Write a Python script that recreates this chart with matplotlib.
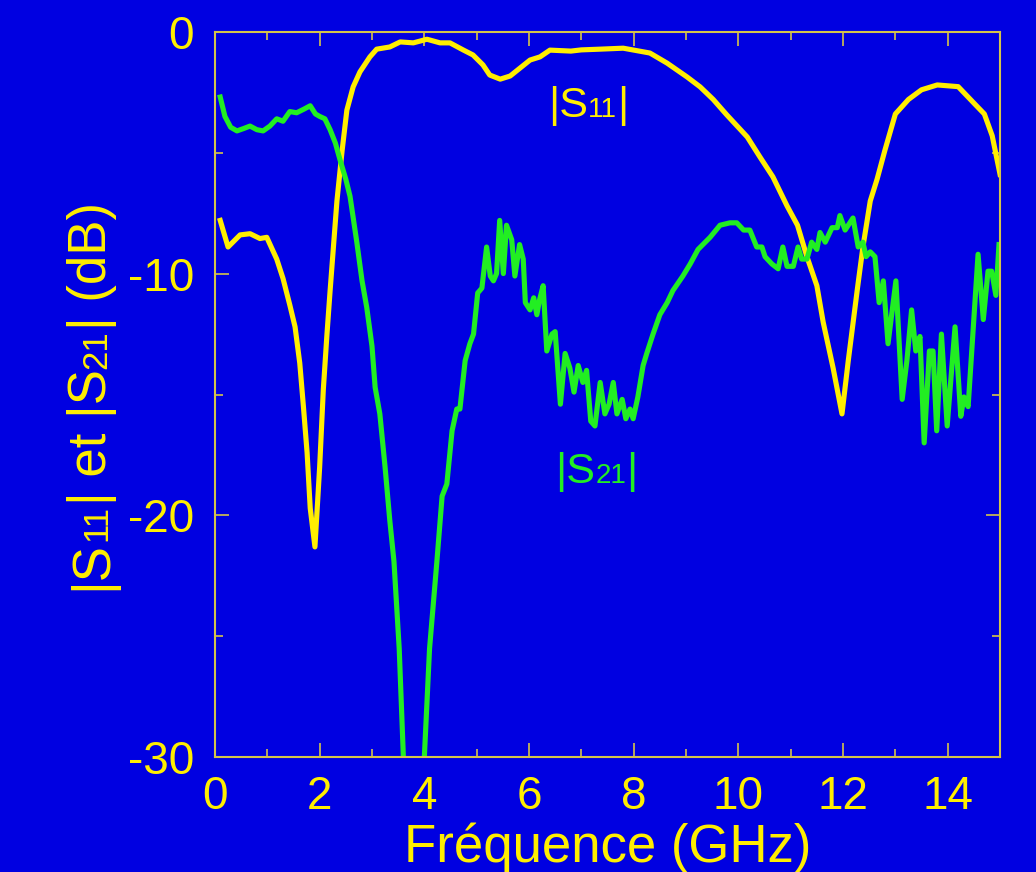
import matplotlib
matplotlib.use('Agg')
import matplotlib.pyplot as plt
from matplotlib.ticker import MultipleLocator

# |S11| (yellow)
s11_freq = [0.1, 0.25, 0.48, 0.67, 0.86, 0.99, 1.18, 1.3, 1.43, 1.53, 1.62, 1.69, 1.76, 1.82, 1.91,
            2.0, 2.07, 2.14, 2.2, 2.33, 2.43, 2.52, 2.64, 2.77, 2.96, 3.09, 3.34, 3.54, 3.79, 4.05,
            4.3, 4.49, 4.74, 4.93, 5.12, 5.25, 5.45, 5.64, 5.83, 6.02, 6.21, 6.4, 6.8, 7.0, 7.36,
            7.8, 8.31, 8.64, 9.02, 9.27, 9.52, 9.78, 10.17, 10.41, 10.66, 10.93, 11.13, 11.31, 11.5,
            11.62, 11.81, 11.98, 12.1, 12.27, 12.38, 12.52, 12.65, 12.8, 13.0, 13.25, 13.5, 13.8,
            14.2, 14.5, 14.7, 14.85, 15.0]
s11_db = [-7.8, -8.9, -8.4, -8.35, -8.55, -8.5, -9.4, -10.2, -11.3, -12.2, -13.7, -15.5, -17.4, -19.7, -21.3,
          -18.0, -14.8, -12.5, -10.7, -7.0, -4.9, -3.24, -2.28, -1.66, -1.04, -0.72, -0.63, -0.42, -0.46, -0.31,
          -0.46, -0.46, -0.75, -0.96, -1.37, -1.79, -1.96, -1.83, -1.5, -1.17, -1.04, -0.76, -0.8, -0.75, -0.72,
          -0.68, -0.88, -1.3, -1.87, -2.28, -2.8, -3.44, -4.35, -5.17, -6.0, -7.2, -8.0, -9.3, -10.5,
          -12.0, -13.9, -15.8, -13.6, -10.7, -8.9, -7.0, -6.1, -4.9, -3.4, -2.8, -2.4, -2.2,
          -2.27, -2.95, -3.4, -4.3, -5.9]

# |S21| (green)
s21_freq = [0.1, 0.19, 0.3, 0.42, 0.55, 0.67, 0.8, 0.92, 1.05, 1.18, 1.3, 1.43, 1.56, 1.7, 1.82, 1.92,
            2.0, 2.1, 2.2, 2.3, 2.39, 2.5, 2.58, 2.71, 2.81, 2.9, 3.0, 3.06, 3.15, 3.25, 3.34, 3.42,
            3.52, 3.6, 3.62, 3.98, 4.0, 4.1, 4.24, 4.34, 4.43, 4.53, 4.62, 4.68, 4.74, 4.78, 4.87,
            4.94, 5.02, 5.1, 5.19, 5.26, 5.32, 5.38, 5.44, 5.51, 5.57, 5.67, 5.73, 5.82, 5.89, 5.93,
            6.02, 6.09, 6.15, 6.2, 6.27, 6.34, 6.44, 6.5, 6.6, 6.69, 6.78, 6.86, 6.94, 7.03, 7.1,
            7.18, 7.26, 7.36, 7.45, 7.53, 7.61, 7.68, 7.78, 7.85, 7.93, 7.99, 8.08, 8.18, 8.25, 8.37,
            8.5, 8.64, 8.75, 8.94, 9.08, 9.23, 9.46, 9.65, 9.84, 9.97, 10.1, 10.22, 10.35, 10.45,
            10.51, 10.64, 10.76, 10.85, 10.93, 11.05, 11.14, 11.21, 11.31, 11.4, 11.5, 11.56, 11.66,
            11.79, 11.89, 11.94, 12.04, 12.19, 12.29, 12.38, 12.44, 12.52, 12.61, 12.69, 12.77,
            12.86, 13.01, 13.13, 13.22, 13.31, 13.39, 13.47, 13.55, 13.65, 13.72, 13.79, 13.88,
            13.99, 14.14, 14.25, 14.31, 14.39, 14.49, 14.58, 14.68, 14.77, 14.84, 14.92, 14.98]
s21_db = [-2.7, -3.5, -3.95, -4.1, -4.0, -3.9, -4.05, -4.1, -3.9, -3.6, -3.7, -3.3, -3.35, -3.2, -3.06, -3.4,
          -3.5, -3.6, -4.05, -4.6, -5.3, -6.1, -6.8, -8.7, -10.3, -11.4, -13.0, -14.7, -15.8, -18.0, -20.2, -21.9,
          -25.5, -30.0, -31.0, -31.0, -30.0, -25.5, -21.9, -19.2, -18.7, -16.5, -15.6, -15.6, -14.4, -13.6, -12.9,
          -12.5, -10.8, -10.6, -8.9, -10.1, -10.3, -10.0, -7.8, -10.0, -8.0, -8.6, -10.1, -8.8, -9.4, -11.2,
          -11.5, -11.0, -11.7, -11.1, -10.5, -13.2, -12.5, -12.4, -15.4, -13.3, -13.9, -14.9, -13.8, -14.5, -14.0,
          -16.1, -16.3, -14.5, -15.8, -15.4, -14.5, -15.8, -15.2, -16.0, -15.6, -16.0, -15.1, -13.8, -13.3, -12.5,
          -11.7, -11.2, -10.7, -10.1, -9.6, -9.0, -8.5, -8.0, -7.9, -7.9, -8.2, -8.2, -8.9, -8.9,
          -9.3, -9.6, -9.8, -8.9, -9.7, -9.7, -8.9, -9.4, -9.4, -8.7, -9.0, -8.3, -8.7,
          -8.1, -8.1, -7.6, -8.2, -7.7, -8.9, -8.7, -9.3, -9.1, -9.3, -11.2, -10.3,
          -12.9, -10.3, -15.2, -13.6, -11.5, -13.2, -12.6, -17.0, -13.2, -13.2, -16.5, -12.5,
          -16.3, -12.2, -15.9, -15.1, -15.5, -12.2, -9.2, -11.9, -9.9, -9.9, -10.9, -8.8]

bg = '#0000E1'
yellow = '#FFEE00'
green = '#22EE22'
frame = '#D4C44A'

plt.rcParams['font.family'] = ['Liberation Sans', 'DejaVu Sans']
plt.rcParams['axes.unicode_minus'] = False

fig = plt.figure(figsize=(10.36, 8.72), dpi=100, facecolor=bg)
ax = fig.add_axes([0.2075, 0.1315, 0.7578, 0.8321], facecolor=bg)

ax.plot(s11_freq, s11_db, color=yellow, lw=3.7, solid_joinstyle='round')
ax.plot(s21_freq, s21_db, color=green, lw=3.7, solid_joinstyle='round')

ax.set_xlim(0, 15)
ax.set_ylim(-30, 0)
ax.xaxis.set_major_locator(MultipleLocator(2))
ax.xaxis.set_minor_locator(MultipleLocator(1))
ax.yaxis.set_major_locator(MultipleLocator(10))
ax.yaxis.set_minor_locator(MultipleLocator(5))
ax.tick_params(which='both', direction='in', top=True, right=True, color=frame,
               labelcolor=yellow, labelsize=33, width=1.2)
ax.tick_params(which='major', length=10)
ax.tick_params(which='minor', length=5.5)
ax.tick_params(axis='x', pad=13)
ax.tick_params(axis='y', pad=15)
for sp in ax.spines.values():
    sp.set_color(frame)
    sp.set_linewidth(1.5)

ax.set_xlabel('Fréquence (GHz)', color=yellow, fontsize=38, labelpad=2)


def chain(first, pieces, color, rotated=False):
    # glue text pieces of different sizes on a common baseline
    prev, prev_size = first, first.get_fontsize()
    for s, size in pieces:
        shift = 0.21 * (prev_size - size)
        if rotated:
            kw = dict(xy=(1, 1), xytext=(-shift, 0), ha='right', va='bottom', rotation=90)
        else:
            kw = dict(xy=(1, 0), xytext=(0, shift), ha='left', va='bottom')
        prev = ax.annotate(s, xycoords=prev, textcoords='offset points',
                           fontsize=size, color=color, **kw)
        prev_size = size


big, small = 38, 25
t = fig.text(117 / 1036, 1 - 590 / 872, '|S', rotation=90, ha='right', va='bottom',
             fontsize=big, color=yellow)
chain(t, [('11', small), ('| et |S', big), ('21', small), ('| (dB)', big)], yellow, rotated=True)

t = ax.text(6.36, -3.53, '|S', fontsize=31, color=yellow, ha='left', va='baseline')
chain(t, [('11', 20), ('|', 31)], yellow)
t = ax.text(6.5, -18.66, '|S', fontsize=31, color=green, ha='left', va='baseline')
chain(t, [('21', 20), ('|', 31)], green)

fig.savefig('out.png', dpi=100, facecolor=bg)
